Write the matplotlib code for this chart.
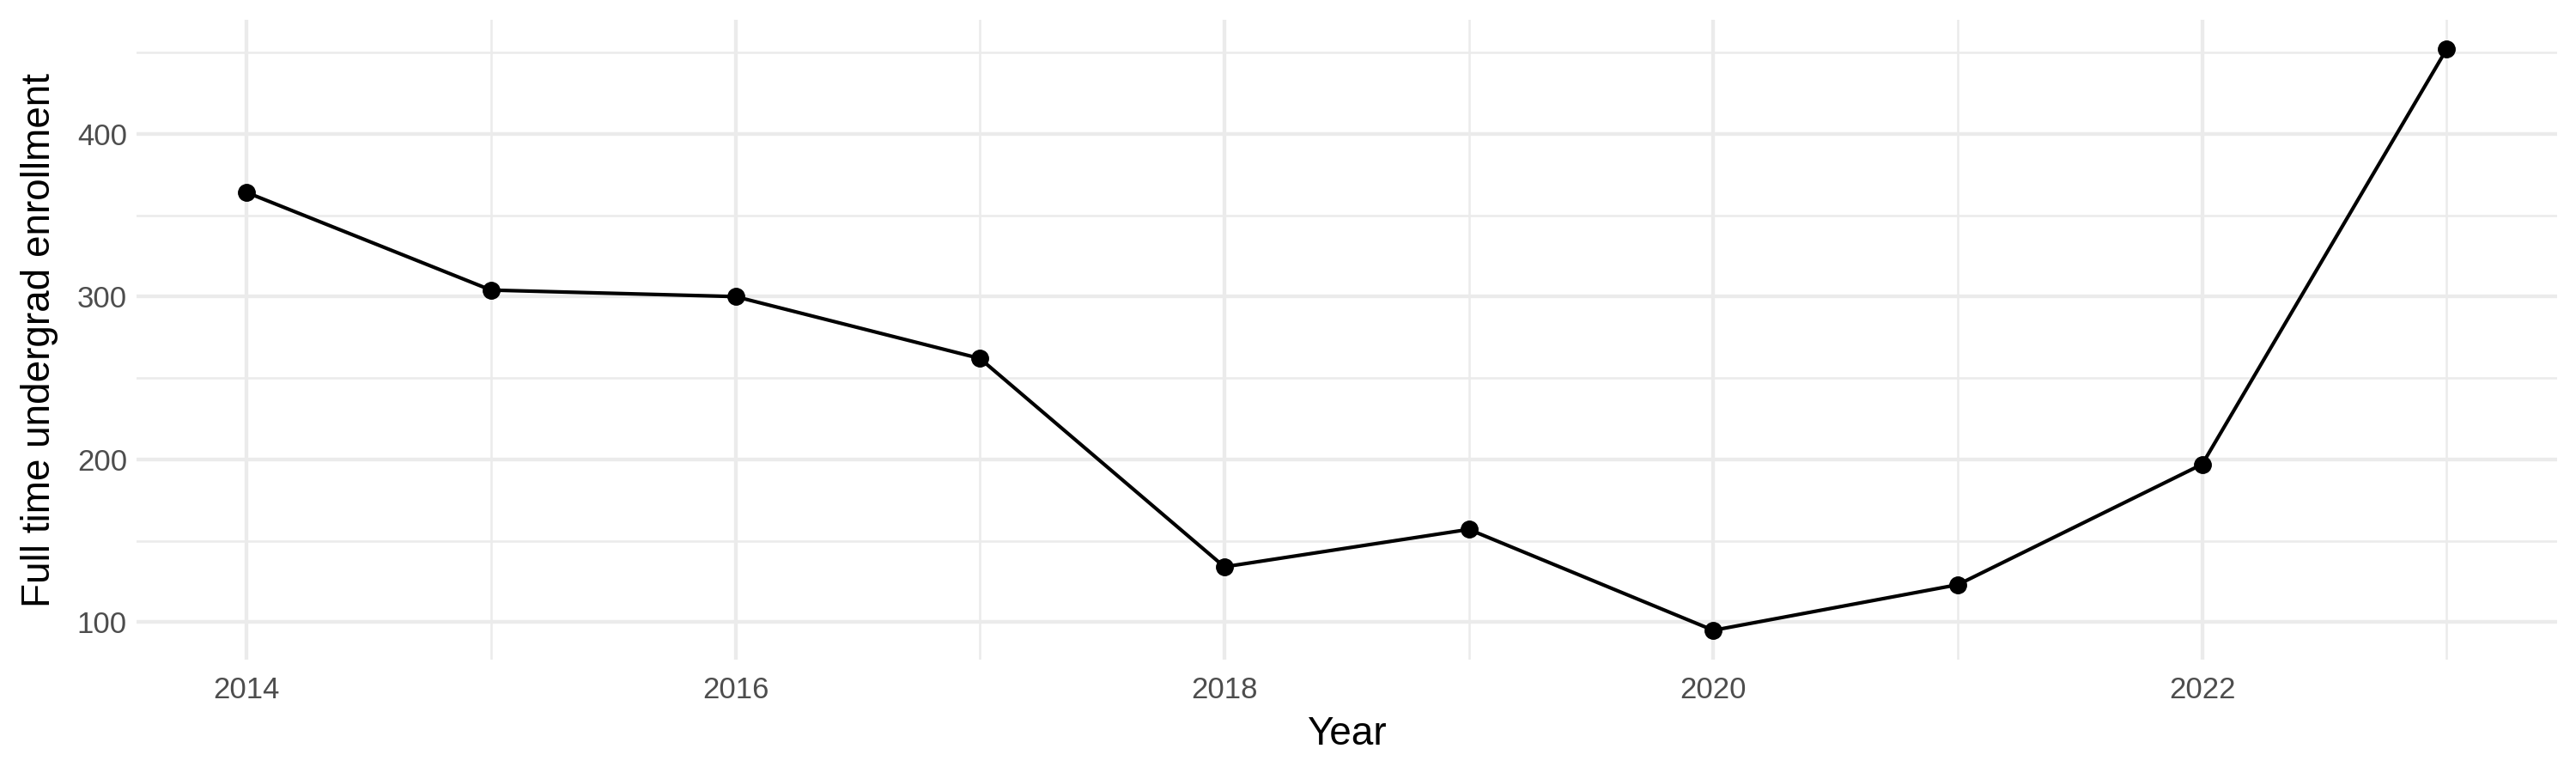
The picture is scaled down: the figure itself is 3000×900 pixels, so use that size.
import matplotlib.pyplot as plt

years = [2014, 2015, 2016, 2017, 2018, 2019, 2020, 2021, 2022, 2023]
enroll = [364, 304, 300, 262, 134, 157, 95, 123, 197, 452]

x_major = [2014, 2016, 2018, 2020, 2022]
y_major = [100, 200, 300, 400]

plt.rcParams['font.family'] = ['Liberation Sans', 'DejaVu Sans']

fig = plt.figure(figsize=(30, 9), dpi=100)
ax = fig.add_axes([0.053, 0.147, 0.9395, 0.827])

ax.plot(years, enroll, color='black', lw=3, zorder=3)
ax.plot(years, enroll, 'o', color='black', ms=14, zorder=4)

# ggplot-like expansion (5%)
rx = max(years) - min(years)
ry = max(enroll) - min(enroll)
ax.set_xlim(min(years) - 0.05 * rx, max(years) + 0.05 * rx)
ax.set_ylim(min(enroll) - 0.05 * ry, max(enroll) + 0.05 * ry)

ax.set_xticks(x_major)
ax.set_yticks(y_major)
ax.set_xticks([2015, 2017, 2019, 2021, 2023], minor=True)
ax.set_yticks([150, 250, 350, 450], minor=True)

ax.grid(which='major', color='#EBEBEB', lw=3.1)
ax.grid(which='minor', color='#EBEBEB', lw=1.8)
ax.set_axisbelow(True)
for s in ax.spines.values():
    s.set_visible(False)
ax.tick_params(which='both', length=0)
ax.tick_params(axis='both', labelsize=25, labelcolor='#4D4D4D')
ax.tick_params(axis='x', pad=14)
ax.tick_params(axis='y', pad=8)

ax.set_xlabel('Year', fontsize=33, labelpad=9)
ax.set_ylabel('Full time undergrad enrollment', fontsize=33, labelpad=16)

fig.savefig('out.png', dpi=100)
